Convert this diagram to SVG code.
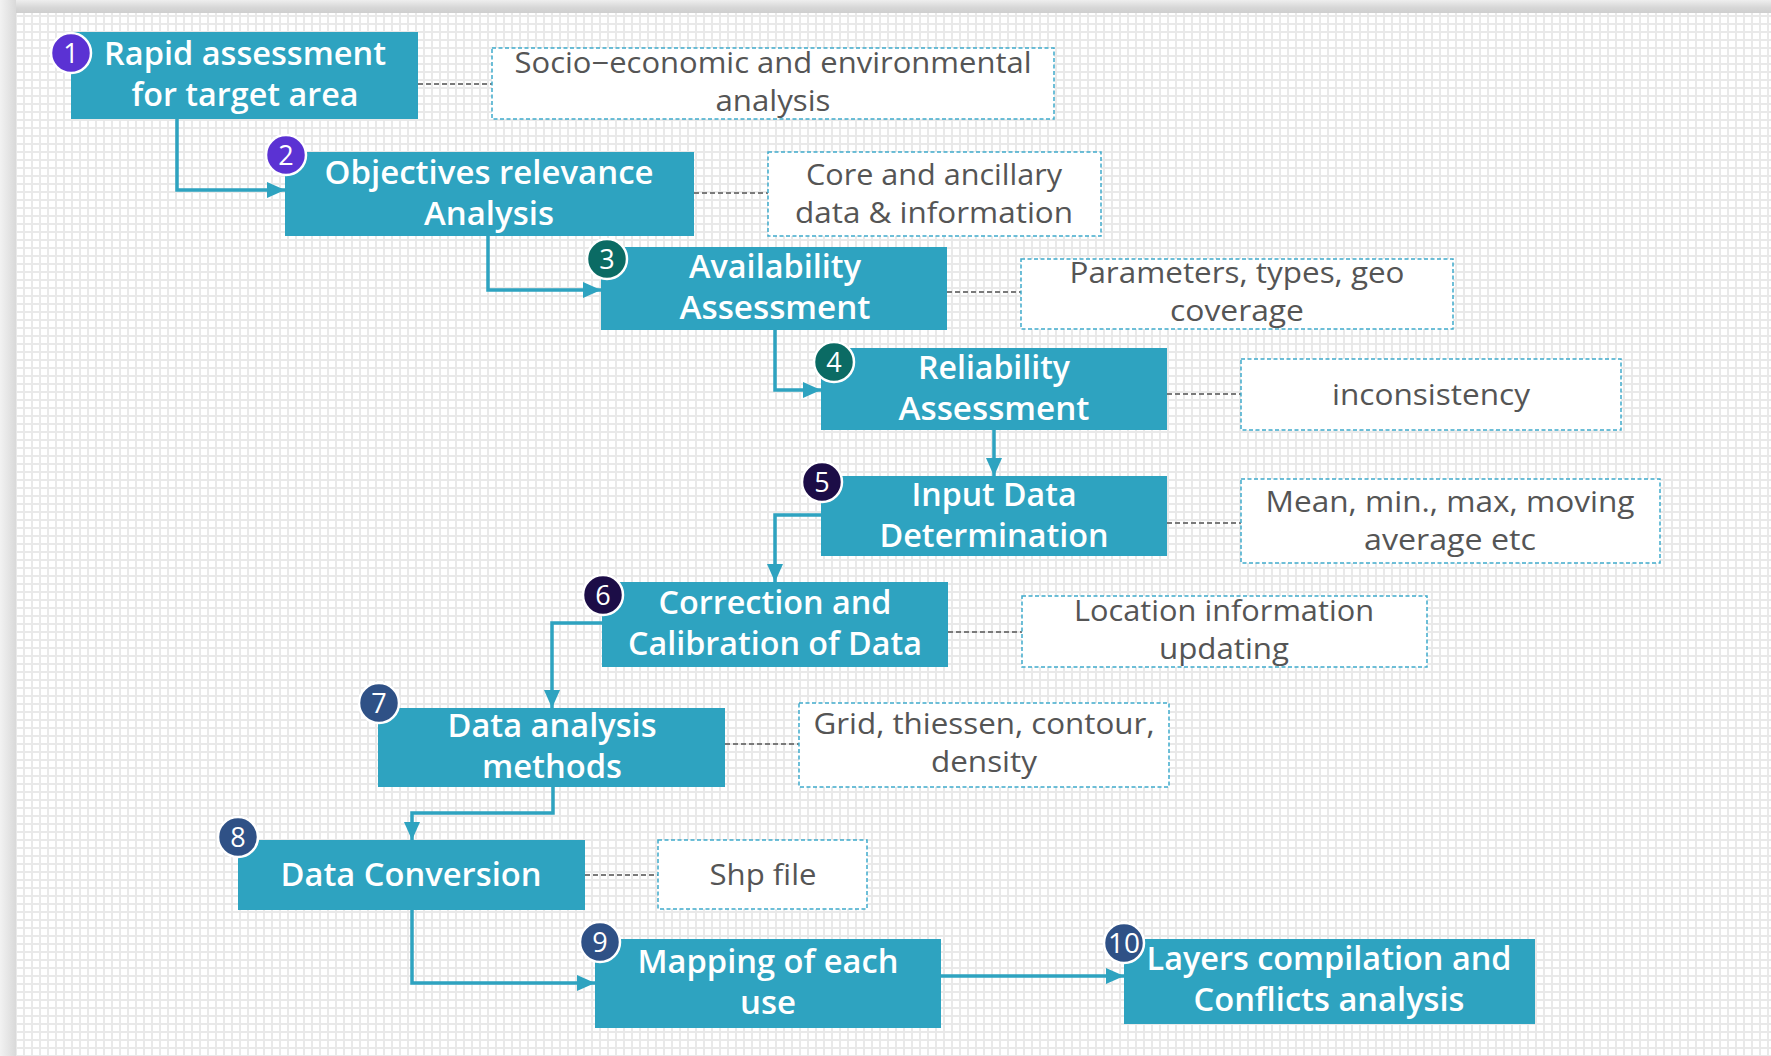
<svg xmlns="http://www.w3.org/2000/svg" width="1771" height="1056" viewBox="0 0 1771 1056">
<style>
.node{fill:#2EA3C0;}
.nt{font-family:"Open Sans","Noto Sans",sans-serif;font-weight:600;font-size:32px;fill:#ffffff;text-anchor:middle;}
.box{fill:#ffffff;stroke:#3FAACB;stroke-width:1.5;stroke-dasharray:4 2.5;}
.bt{font-family:"Open Sans","Noto Sans",sans-serif;font-size:29px;fill:#555555;text-anchor:middle;}
.badge{stroke:#ffffff;stroke-width:2.5;}
.bn{font-family:"Open Sans","Noto Sans",sans-serif;font-size:27px;fill:#ffffff;text-anchor:middle;}
.flow{fill:none;stroke:#2EA3C0;stroke-width:3.5;}
.dash{fill:none;stroke:#7A7A7A;stroke-width:2;stroke-dasharray:5 3;}
.p{fill:#5B32D3;}.t{fill:#0B6B64;}.n{fill:#1C0D47;}.b{fill:#2F5186;}
</style>
<defs>
<pattern id="grid" x="0" y="0" width="8" height="8" patternUnits="userSpaceOnUse">
<rect width="8" height="8" fill="#e9e9e9"/>
<rect x="1" y="1" width="6" height="6" fill="#ffffff"/>
</pattern>
<linearGradient id="topg" x1="0" y1="0" x2="0" y2="1">
<stop offset="0" stop-color="#eeeeee"/><stop offset="0.6" stop-color="#d6d6d6"/><stop offset="1" stop-color="#cfcfcf"/>
</linearGradient>
<linearGradient id="leftg" x1="0" y1="0" x2="1" y2="0">
<stop offset="0" stop-color="#f2f2f2"/><stop offset="1" stop-color="#d9d9d9"/>
</linearGradient>
<marker id="arr" markerUnits="userSpaceOnUse" markerWidth="18" markerHeight="16" viewBox="0 0 18 16" refX="18" refY="8" orient="auto">
<path d="M0,0 L18,8 L0,16 Z" fill="#2EA3C0"/>
</marker>
</defs>

<rect x="0" y="0" width="1771" height="1056" fill="#ffffff"/>
<rect x="0" y="0" width="1771" height="13" fill="url(#topg)"/>
<rect x="0" y="0" width="16" height="1056" fill="url(#leftg)"/>
<rect x="16" y="13" width="1755" height="1043" fill="url(#grid)"/>

<g id="connectors">
<path class="flow" marker-end="url(#arr)" d="M177,119 V190 H285"/>
<path class="flow" marker-end="url(#arr)" d="M488,236 V290 H601"/>
<path class="flow" marker-end="url(#arr)" d="M775,330 V390 H821"/>
<path class="flow" marker-end="url(#arr)" d="M994,430 V476"/>
<path class="flow" marker-end="url(#arr)" d="M821,515 H775 V582"/>
<path class="flow" marker-end="url(#arr)" d="M602,623 H552 V708"/>
<path class="flow" marker-end="url(#arr)" d="M553,787 V813 H412 V840"/>
<path class="flow" marker-end="url(#arr)" d="M412,910 V983 H595"/>
<path class="flow" marker-end="url(#arr)" d="M941,976 H1124"/>
<path class="dash" d="M418,84 H492"/>
<path class="dash" d="M694,193 H768"/>
<path class="dash" d="M947,292 H1021"/>
<path class="dash" d="M1167,394 H1241"/>
<path class="dash" d="M1167,523 H1241"/>
<path class="dash" d="M948,632 H1022"/>
<path class="dash" d="M725,744 H799"/>
<path class="dash" d="M585,875 H658"/>
</g>

<g id="node1">
<rect class="node" x="71" y="32" width="347" height="87"/>
<text class="nt" x="245" y="65" textLength="282" lengthAdjust="spacingAndGlyphs">Rapid assessment</text>
<text class="nt" x="245" y="106" textLength="227" lengthAdjust="spacingAndGlyphs">for target area</text>
<circle class="badge p" cx="71" cy="53" r="20"/>
<text class="bn" x="71" y="62.5">1</text>
</g>
<g id="note1">
<rect class="box" x="492" y="48" width="562" height="71"/>
<text class="bt" x="773" y="73" textLength="517" lengthAdjust="spacingAndGlyphs">Socio−economic and environmental</text>
<text class="bt" x="773" y="111" textLength="115" lengthAdjust="spacingAndGlyphs">analysis</text>
</g>

<g id="node2">
<rect class="node" x="285" y="152" width="409" height="84"/>
<text class="nt" x="489" y="184" textLength="329" lengthAdjust="spacingAndGlyphs">Objectives relevance</text>
<text class="nt" x="489" y="225" textLength="130" lengthAdjust="spacingAndGlyphs">Analysis</text>
<circle class="badge p" cx="286" cy="155" r="20"/>
<text class="bn" x="286" y="164.5">2</text>
</g>
<g id="note2">
<rect class="box" x="768" y="152" width="333" height="84"/>
<text class="bt" x="934" y="185" textLength="256" lengthAdjust="spacingAndGlyphs">Core and ancillary</text>
<text class="bt" x="934" y="223" textLength="278" lengthAdjust="spacingAndGlyphs">data &amp; information</text>
</g>

<g id="node3">
<rect class="node" x="601" y="247" width="346" height="83"/>
<text class="nt" x="775" y="278" textLength="172" lengthAdjust="spacingAndGlyphs">Availability</text>
<text class="nt" x="775" y="319" textLength="191" lengthAdjust="spacingAndGlyphs">Assessment</text>
<circle class="badge t" cx="607" cy="259" r="20"/>
<text class="bn" x="607" y="268.5">3</text>
</g>
<g id="note3">
<rect class="box" x="1021" y="259" width="432" height="70"/>
<text class="bt" x="1237" y="283" textLength="335" lengthAdjust="spacingAndGlyphs">Parameters, types, geo</text>
<text class="bt" x="1237" y="321" textLength="134" lengthAdjust="spacingAndGlyphs">coverage</text>
</g>

<g id="node4">
<rect class="node" x="821" y="348" width="346" height="82"/>
<text class="nt" x="994" y="379" textLength="152" lengthAdjust="spacingAndGlyphs">Reliability</text>
<text class="nt" x="994" y="420" textLength="191" lengthAdjust="spacingAndGlyphs">Assessment</text>
<circle class="badge t" cx="834" cy="362" r="20"/>
<text class="bn" x="834" y="371.5">4</text>
</g>
<g id="note4">
<rect class="box" x="1241" y="359" width="380" height="71"/>
<text class="bt" x="1431" y="405" textLength="198" lengthAdjust="spacingAndGlyphs">inconsistency</text>
</g>

<g id="node5">
<rect class="node" x="821" y="476" width="346" height="80"/>
<text class="nt" x="994" y="506" textLength="165" lengthAdjust="spacingAndGlyphs">Input Data</text>
<text class="nt" x="994" y="547" textLength="229" lengthAdjust="spacingAndGlyphs">Determination</text>
<circle class="badge n" cx="822" cy="482" r="20"/>
<text class="bn" x="822" y="491.5">5</text>
</g>
<g id="note5">
<rect class="box" x="1241" y="479" width="419" height="84"/>
<text class="bt" x="1450" y="512" textLength="369" lengthAdjust="spacingAndGlyphs">Mean, min., max, moving</text>
<text class="bt" x="1450" y="550" textLength="172" lengthAdjust="spacingAndGlyphs">average etc</text>
</g>

<g id="node6">
<rect class="node" x="602" y="582" width="346" height="85"/>
<text class="nt" x="775" y="614" textLength="233" lengthAdjust="spacingAndGlyphs">Correction and</text>
<text class="nt" x="775" y="655" textLength="294" lengthAdjust="spacingAndGlyphs">Calibration of Data</text>
<circle class="badge n" cx="603" cy="595" r="20"/>
<text class="bn" x="603" y="604.5">6</text>
</g>
<g id="note6">
<rect class="box" x="1022" y="596" width="405" height="71"/>
<text class="bt" x="1224" y="621" textLength="300" lengthAdjust="spacingAndGlyphs">Location information</text>
<text class="bt" x="1224" y="659" textLength="130" lengthAdjust="spacingAndGlyphs">updating</text>
</g>

<g id="node7">
<rect class="node" x="378" y="708" width="347" height="79"/>
<text class="nt" x="552" y="737" textLength="209" lengthAdjust="spacingAndGlyphs">Data analysis</text>
<text class="nt" x="552" y="778" textLength="140" lengthAdjust="spacingAndGlyphs">methods</text>
<circle class="badge b" cx="379" cy="703" r="20"/>
<text class="bn" x="379" y="712.5">7</text>
</g>
<g id="note7">
<rect class="box" x="799" y="703" width="370" height="84"/>
<text class="bt" x="984" y="734" textLength="341" lengthAdjust="spacingAndGlyphs">Grid, thiessen, contour,</text>
<text class="bt" x="984" y="772" textLength="106" lengthAdjust="spacingAndGlyphs">density</text>
</g>

<g id="node8">
<rect class="node" x="238" y="840" width="347" height="70"/>
<text class="nt" x="411" y="886" textLength="261" lengthAdjust="spacingAndGlyphs">Data Conversion</text>
<circle class="badge b" cx="238" cy="837" r="20"/>
<text class="bn" x="238" y="846.5">8</text>
</g>
<g id="note8">
<rect class="box" x="658" y="840" width="209" height="69"/>
<text class="bt" x="763" y="885" textLength="107" lengthAdjust="spacingAndGlyphs">Shp file</text>
</g>

<g id="node9">
<rect class="node" x="595" y="939" width="346" height="89"/>
<text class="nt" x="768" y="973" textLength="261" lengthAdjust="spacingAndGlyphs">Mapping of each</text>
<text class="nt" x="768" y="1014" textLength="56" lengthAdjust="spacingAndGlyphs">use</text>
<circle class="badge b" cx="600" cy="942" r="20"/>
<text class="bn" x="600" y="951.5">9</text>
</g>

<g id="node10">
<rect class="node" x="1124" y="939" width="411" height="85"/>
<text class="nt" x="1329" y="970" textLength="365" lengthAdjust="spacingAndGlyphs">Layers compilation and</text>
<text class="nt" x="1329" y="1011" textLength="271" lengthAdjust="spacingAndGlyphs">Conflicts analysis</text>
<circle class="badge b" cx="1124" cy="943" r="20"/>
<text class="bn" x="1124" y="952.5" textLength="32" lengthAdjust="spacingAndGlyphs">10</text>
</g>
</svg>
